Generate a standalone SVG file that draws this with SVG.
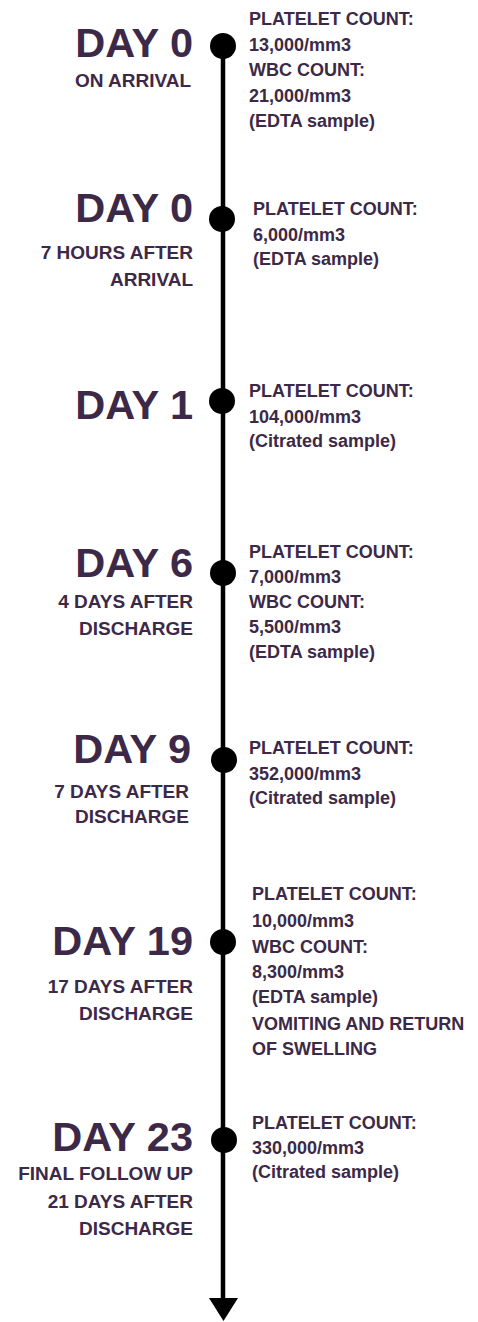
<svg xmlns="http://www.w3.org/2000/svg" width="478" height="1322" viewBox="0 0 478 1322">
<style>
text{font-family:"Liberation Sans",Arial,sans-serif;font-weight:bold;fill:#3c2947}
.day{font-size:41.5px;text-anchor:end}
.sub{font-size:19px;text-anchor:end}
.info{font-size:18px}
.dot{fill:#000}
</style>
<rect width="478" height="1322" fill="#fff"/>
<g id="connectors">
<line x1="223" y1="47" x2="223" y2="1300" stroke="#000" stroke-width="4.5"/>
<path d="M209,1298 L238,1298 L223.5,1321 Z" fill="#000"/>
</g>
<g id="node-day0-arrival">
<circle class="dot" cx="223" cy="46" r="13"/>
<text class="day" x="193" y="57">DAY 0</text>
<text class="sub" x="191" y="87">ON ARRIVAL</text>
<text class="info" x="249" y="25">PLATELET COUNT:</text>
<text class="info" x="249" y="51">13,000/mm3</text>
<text class="info" x="249" y="76">WBC COUNT:</text>
<text class="info" x="249" y="102">21,000/mm3</text>
<text class="info" x="249" y="127">(EDTA sample)</text>
</g>
<g id="node-day0-7h">
<circle class="dot" cx="222" cy="219" r="13"/>
<text class="day" x="193" y="222">DAY 0</text>
<text class="sub" x="193" y="259">7 HOURS AFTER</text>
<text class="sub" x="193" y="286">ARRIVAL</text>
<text class="info" x="253" y="215">PLATELET COUNT:</text>
<text class="info" x="253" y="241">6,000/mm3</text>
<text class="info" x="253" y="265">(EDTA sample)</text>
</g>
<g id="node-day1">
<circle class="dot" cx="222" cy="401" r="13"/>
<text class="day" x="193" y="419">DAY 1</text>
<text class="info" x="249" y="397">PLATELET COUNT:</text>
<text class="info" x="249" y="423">104,000/mm3</text>
<text class="info" x="249" y="447">(Citrated sample)</text>
</g>
<g id="node-day6">
<circle class="dot" cx="223" cy="573" r="13"/>
<text class="day" x="193" y="577">DAY 6</text>
<text class="sub" x="193" y="608">4 DAYS AFTER</text>
<text class="sub" x="193" y="635">DISCHARGE</text>
<text class="info" x="249" y="558">PLATELET COUNT:</text>
<text class="info" x="249" y="583">7,000/mm3</text>
<text class="info" x="249" y="608">WBC COUNT:</text>
<text class="info" x="249" y="633">5,500/mm3</text>
<text class="info" x="249" y="658">(EDTA sample)</text>
</g>
<g id="node-day9">
<circle class="dot" cx="224" cy="760" r="13"/>
<text class="day" x="191" y="763">DAY 9</text>
<text class="sub" x="189" y="798">7 DAYS AFTER</text>
<text class="sub" x="189" y="823">DISCHARGE</text>
<text class="info" x="249" y="754">PLATELET COUNT:</text>
<text class="info" x="249" y="780">352,000/mm3</text>
<text class="info" x="249" y="804">(Citrated sample)</text>
</g>
<g id="node-day19">
<circle class="dot" cx="223" cy="942" r="13"/>
<text class="day" x="193" y="955">DAY 19</text>
<text class="sub" x="193" y="993">17 DAYS AFTER</text>
<text class="sub" x="193" y="1020">DISCHARGE</text>
<text class="info" x="252" y="900">PLATELET COUNT:</text>
<text class="info" x="252" y="927">10,000/mm3</text>
<text class="info" x="252" y="953">WBC COUNT:</text>
<text class="info" x="252" y="978">8,300/mm3</text>
<text class="info" x="252" y="1003">(EDTA sample)</text>
<text class="info" x="252" y="1030">VOMITING AND RETURN</text>
<text class="info" x="252" y="1055">OF SWELLING</text>
</g>
<g id="node-day23">
<circle class="dot" cx="224" cy="1140" r="13"/>
<text class="day" x="193" y="1151">DAY 23</text>
<text class="sub" x="193" y="1180">FINAL FOLLOW UP</text>
<text class="sub" x="193" y="1208">21 DAYS AFTER</text>
<text class="sub" x="193" y="1235">DISCHARGE</text>
<text class="info" x="252" y="1129">PLATELET COUNT:</text>
<text class="info" x="252" y="1154">330,000/mm3</text>
<text class="info" x="252" y="1178">(Citrated sample)</text>
</g>
</svg>
